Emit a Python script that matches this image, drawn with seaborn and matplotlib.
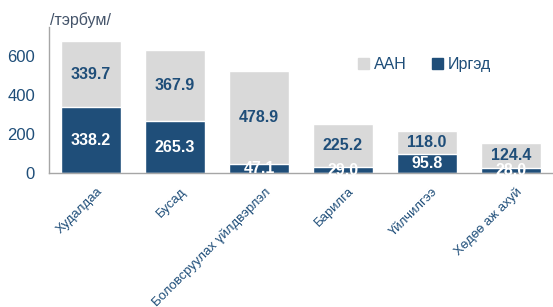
import matplotlib
matplotlib.use("Agg")
import matplotlib.pyplot as plt
import matplotlib.transforms as mtransforms
from matplotlib.patches import Patch
import seaborn as sns
import pandas as pd
import numpy as np

categories = ["Худалдаа", "Бусад", "Боловсруулах үйлдвэрлэл", "Барилга", "Үйлчилгээ", "Хөдөө аж ахуй"]
irged = [338.2, 265.3, 47.1, 29.0, 95.8, 28.0]
aan = [339.7, 367.9, 478.9, 225.2, 118.0, 124.4]
yticks = [0, 200, 400, 600]

DARK = "#1F4E79"
GRAY = "#D9D9D9"
TXT = "#1F4E79"

sns.set_style("white")
plt.rcParams['font.family'] = ['Liberation Sans', 'DejaVu Sans']

df = pd.DataFrame({"cat": categories, "irged": irged, "aan": aan})
df["total"] = df["irged"] + df["aan"]

fig = plt.figure(figsize=(5.53, 3.07), dpi=100)
ax = fig.add_axes([49/553, 1-173/307, 1-49/553, 146/307])

sns.barplot(data=df, x="cat", y="total", color=GRAY, width=0.71, saturation=1, ax=ax)
sns.barplot(data=df, x="cat", y="irged", color=DARK, width=0.71, saturation=1, ax=ax)

ax.set_ylim(0, 750)
ax.set_xlim(-0.5, 5.5)
ax.set_yticks(yticks)
ax.set_yticklabels([str(t) for t in yticks], color=TXT, fontsize=12)
ax.tick_params(axis='y', length=0, pad=10)
ax.set_xlabel("")
ax.set_ylabel("")
ax.set_xticks(range(len(categories)))
ax.set_xticklabels(categories, rotation=45, ha='right', rotation_mode='anchor', color=TXT, fontsize=9.5)
ax.tick_params(axis='x', length=0, pad=9)
offset = mtransforms.ScaledTranslation(5/100, 0, fig.dpi_scale_trans)
for lbl in ax.get_xticklabels():
    lbl.set_transform(lbl.get_transform() + offset)
ax.set_xticks(np.arange(-0.5, 6, 1), minor=True)
ax.tick_params(axis='x', which='minor', length=4, color="#A6A6A6", direction='inout')

for s in ["top", "right"]:
    ax.spines[s].set_visible(False)
for s in ["left", "bottom"]:
    ax.spines[s].set_color("#A6A6A6")
    ax.spines[s].set_linewidth(1)

for i, (b, t) in enumerate(zip(irged, aan)):
    ax.text(i, b/2, f"{b:.1f}", ha='center', va='center', color='white', fontsize=11.5, fontweight='bold')
    ax.text(i, b + t/2, f"{t:.1f}", ha='center', va='center', color=TXT, fontsize=11.5, fontweight='bold')

handles = [Patch(color=GRAY, label="ААН"), Patch(color=DARK, label="Иргэд")]
leg = ax.legend(handles=handles, loc='center', bbox_to_anchor=(0.745, 0.745), ncol=2, frameon=False,
                fontsize=11.5, handlelength=0.7, handleheight=0.7, handletextpad=0.3, columnspacing=1.6)
for t in leg.get_texts():
    t.set_color(TXT)

fig.text(50/553, 1-20/307, "/тэрбум/", color="#44546A", fontsize=11.5, va='center', ha='left')

fig.savefig("out.png", dpi=100)
